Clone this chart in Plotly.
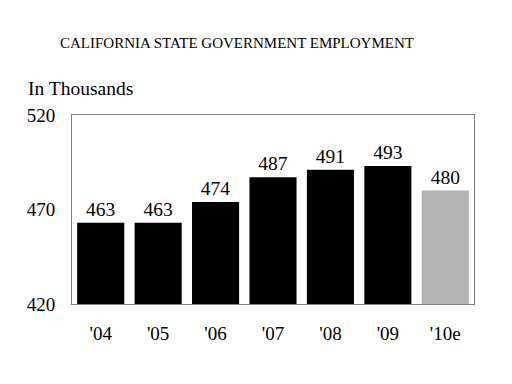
import plotly.graph_objects as go

categories = ["'04", "'05", "'06", "'07", "'08", "'09", "'10e"]
values = [463, 463, 474, 487, 491, 493, 480]
bar_colors = ["#000000"] * 6 + ["#b2b2b2"]
y_ticks = [420, 470, 520]

font_family = "Liberation Serif, Times New Roman, serif"

fig = go.Figure(go.Bar(
    x=categories, y=values,
    marker=dict(color=bar_colors, line=dict(width=0)),
    text=[str(v) for v in values],
    textposition="outside",
    textfont=dict(family=font_family, size=19.5, color="black"),
    cliponaxis=False,
))

# page body has an 8px default margin, so the figure is sized 504x376
fig.update_layout(
    width=504, height=376,
    margin=dict(l=64, r=38, t=107, b=80, autoexpand=False),
    paper_bgcolor="white", plot_bgcolor="white",
    showlegend=False,
    bargap=0.18,
    font=dict(family=font_family, color="black"),
    annotations=[
        dict(text="CALIFORNIA STATE GOVERNMENT EMPLOYMENT", xref="paper", yref="paper",
             x=0.41, y=1, yshift=72, xanchor="center", yanchor="middle", showarrow=False,
             font=dict(family=font_family, size=15, color="black")),
        dict(text="In Thousands", xref="paper", yref="paper",
             x=0, xshift=-46, y=1, yshift=27, xanchor="left", yanchor="middle", showarrow=False,
             font=dict(family=font_family, size=19.5, color="black")),
    ],
)

fig.update_yaxes(range=[420, 520], tickvals=y_ticks, ticks="", showgrid=False,
                 showline=True, linecolor="#808080", linewidth=1, mirror=True,
                 tickfont=dict(family=font_family, size=19, color="black"),
                 ticklabelstandoff=12, zeroline=False, automargin=False)
fig.update_xaxes(ticks="", showgrid=False, showline=True, linecolor="#808080", linewidth=1,
                 mirror=True, tickfont=dict(family=font_family, size=19, color="black"),
                 ticklabelstandoff=12, automargin=False)

fig.write_html("out.html")
